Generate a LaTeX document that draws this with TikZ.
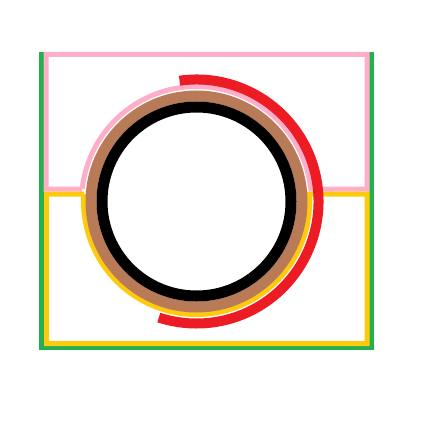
\documentclass[tikz,border=0pt]{standalone}
\usepackage{tikz}
\definecolor{pinkc}{RGB}{255,174,201}
\definecolor{yellowc}{RGB}{255,201,14}
\definecolor{greenc}{RGB}{34,177,76}
\definecolor{redc}{RGB}{237,28,36}
\definecolor{brownc}{RGB}{185,122,87}
\begin{document}
\begin{tikzpicture}
  \useasboundingbox (0,0) rectangle (4.45,4.27);
  \coordinate (c) at (1.965,2.255);
  %%%%%%%%%%%%%The frame%%%%%%%%%%%%%%%%%%%%%%
  \draw[greenc,line width=0.05cm] (0.415,3.75) -- (0.415,0.795) -- (3.715,0.795) -- (3.715,3.75);
  \draw[pinkc,line width=0.05cm] (c) ++(173.76:1.15) -- (0.46,2.38) -- (0.46,3.725) -- (3.67,3.725) -- (3.67,2.38) -- (3.108,2.38)
    arc[start angle=6.24,end angle=173.76,radius=1.15];
  \draw[yellowc,line width=0.05cm] (c) ++(176.2:1.13) -- (0.465,2.33) -- (0.465,0.835) -- (3.67,0.835) -- (3.67,2.33) -- (3.093,2.33)
    arc[start angle=3.8,end angle=-183.8,radius=1.13];

  %%%%%%%%%%%%%The rings%%%%%%%%%%%%%%%%%%%%%%
  \draw[brownc,line width=0.11cm] (c) circle (1.055);
  \draw[black,line width=0.11cm] (c) circle (0.945);
  \draw[redc,line width=0.10cm] (c) ++(98:1.22) arc[start angle=98,end angle=-108,radius=1.22];
\end{tikzpicture}
\end{document}
